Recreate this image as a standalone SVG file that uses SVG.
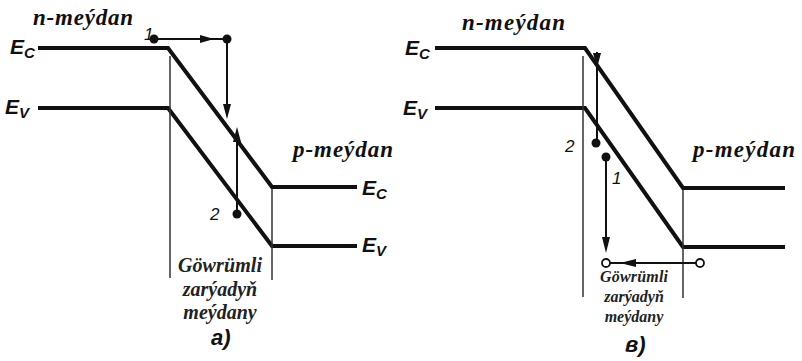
<svg xmlns="http://www.w3.org/2000/svg" width="802" height="361" viewBox="0 0 802 361">
<style>
.band{fill:none;stroke:#111;stroke-width:4;stroke-linejoin:miter}
.thin{fill:none;stroke:#333;stroke-width:1.5}
.arr{fill:none;stroke:#111;stroke-width:2}
.head{fill:#111}
.dot{fill:#111}
.odot{fill:#fff;stroke:#111;stroke-width:1.8}
.reg{font-family:"Liberation Serif",serif;font-style:italic;font-weight:bold;fill:#111}
.lvl{font-family:"Liberation Sans",sans-serif;font-style:italic;font-weight:bold;fill:#111}
.num{font-family:"Liberation Sans",sans-serif;font-style:italic;fill:#111;font-size:17px}
.cap{font-family:"Liberation Serif",serif;font-style:italic;font-weight:bold;fill:#222;text-anchor:middle}
</style>
<rect width="802" height="361" fill="#fff"/>

<g id="panel-a">
  <g id="a-bands">
    <polyline class="band" points="38,48 168,48 272,187 357,187"/>
    <polyline class="band" points="38,108 168,108 272,246 357,246"/>
    <line class="thin" x1="170" y1="56" x2="170" y2="278"/>
    <line class="thin" x1="272" y1="189" x2="272" y2="280"/>
  </g>
  <g id="a-labels">
    <text class="reg" x="33" y="25" font-size="23" textLength="100" lengthAdjust="spacing">n-meýdan</text>
    <text class="reg" x="293" y="157" font-size="23" textLength="100" lengthAdjust="spacing">p-meýdan</text>
    <text class="lvl" x="10" y="54" font-size="21">E<tspan font-size="15" dy="4">C</tspan></text>
    <text class="lvl" x="5" y="114" font-size="21">E<tspan font-size="15" dy="4">V</tspan></text>
    <text class="lvl" x="362" y="195" font-size="21">E<tspan font-size="15" dy="4">C</tspan></text>
    <text class="lvl" x="362" y="252" font-size="21">E<tspan font-size="15" dy="4">V</tspan></text>
    <text class="num" x="144" y="40">1</text>
    <text class="num" x="210" y="220">2</text>
    <text class="cap" x="220" y="272" font-size="20" textLength="84" lengthAdjust="spacing">Göwrümli</text>
    <text class="cap" x="220" y="296" font-size="20">zarýadyň</text>
    <text class="cap" x="220" y="319" font-size="20">meýdany</text>
    <text class="lvl" x="211" y="345" font-size="22">a)</text>
  </g>
</g>

<g id="panel-b">
  <g id="b-bands">
    <polyline class="band" points="435,48 585,48 683,188 785,188"/>
    <polyline class="band" points="435,108 585,108 683,247 785,247"/>
    <line class="thin" x1="583" y1="56" x2="583" y2="297"/>
    <line class="thin" x1="683" y1="190" x2="683" y2="298"/>
  </g>
  <g id="b-labels">
    <text class="reg" x="462" y="30" font-size="23" textLength="103" lengthAdjust="spacing">n-meýdan</text>
    <text class="reg" x="693" y="157" font-size="23" textLength="102" lengthAdjust="spacing">p-meýdan</text>
    <text class="lvl" x="405" y="55" font-size="21">E<tspan font-size="15" dy="4">C</tspan></text>
    <text class="lvl" x="403" y="115" font-size="21">E<tspan font-size="15" dy="4">V</tspan></text>
    <text class="num" x="565" y="152">2</text>
    <text class="num" x="612" y="184">1</text>
    <text class="cap" x="634" y="282" font-size="16" textLength="68" lengthAdjust="spacing">Göwrümli</text>
    <text class="cap" x="634" y="302" font-size="16">zarýadyň</text>
    <text class="cap" x="634" y="322" font-size="16">meýdany</text>
    <text class="lvl" x="625" y="352" font-size="22">в)</text>
  </g>
</g>

<g id="connectors">
  <line class="arr" x1="154" y1="39" x2="227" y2="39"/>
  <polygon class="head" points="214,39 200,35 200,43"/>
  <line class="arr" x1="227" y1="39" x2="227" y2="106"/>
  <polygon class="head" points="227,119 223,104 231,104"/>
  <line class="arr" x1="237" y1="214" x2="237" y2="140"/>
  <polygon class="head" points="237,127 233,142 241,142"/>
  <circle class="dot" cx="154" cy="39" r="4.5"/>
  <circle class="dot" cx="227" cy="39" r="4.5"/>
  <circle class="dot" cx="237" cy="214" r="4.5"/>

  <line class="arr" x1="597" y1="143" x2="597" y2="52"/>
  <polygon class="head" points="597,68 593,53 601,53"/>
  <line class="arr" x1="606" y1="157" x2="606" y2="240"/>
  <polygon class="head" points="606,253 602,237 610,237"/>
  <line class="arr" x1="610" y1="263" x2="696" y2="263"/>
  <polygon class="head" points="620,263 636,259 636,267"/>
  <circle class="dot" cx="596" cy="143" r="4.5"/>
  <circle class="dot" cx="606" cy="157" r="4.5"/>
  <circle class="odot" cx="606" cy="263" r="4"/>
  <circle class="odot" cx="700" cy="263" r="4"/>
</g>
</svg>
